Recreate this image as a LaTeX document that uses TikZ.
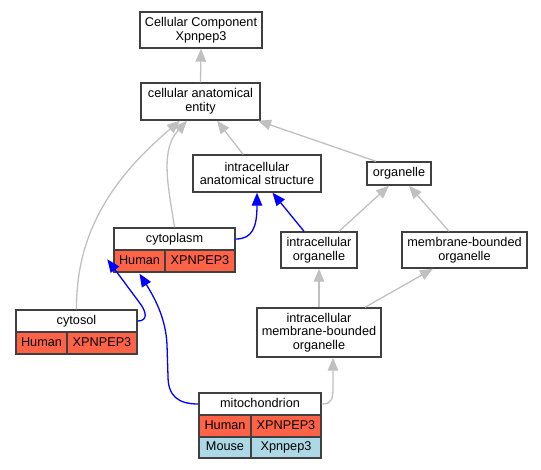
\documentclass[tikz,border=0pt]{standalone}
\usepackage{fontspec}
\setmainfont{Liberation Sans}
\usetikzlibrary{arrows.meta,calc}
\definecolor{edgegray}{HTML}{C0C0C0}
\definecolor{boxborder}{HTML}{404040}
\definecolor{humanfill}{HTML}{FF6347}
\definecolor{mousefill}{HTML}{ADD8E6}
\begin{document}
\begin{tikzpicture}[x=1pt,y=-1pt,
  every node/.style={font=\fontsize{12.7}{13.7}\selectfont},
  termbox/.style={draw=boxborder,line width=1.4pt,fill=white,align=center,inner sep=0pt},
  cell/.style={draw=boxborder,line width=1.4pt,inner sep=0pt,text height=9.1pt,text depth=2.6pt},
  titlecell/.style={cell,fill=white},
  human/.style={cell,fill=humanfill},
  mouse/.style={cell,fill=mousefill},
  isa/.style={draw=edgegray,line width=1.3pt,-{Triangle[length=13pt,width=10.5pt]}},
  orth/.style={draw=blue,line width=1.3pt,-{Triangle[length=13pt,width=10.5pt]}}]
\useasboundingbox (0,0) rectangle (541,469);

% term nodes
\node[termbox,minimum width=122pt,minimum height=36pt] (cc) at (201,30) {Cellular Component\\Xpnpep3};
\node[termbox,minimum width=119pt,minimum height=37pt] (cae) at (200.5,101.5) {cellular anatomical\\entity};
\node[termbox,minimum width=128pt,minimum height=37pt] (ias) at (257,173.5) {intracellular\\anatomical structure};
\node[termbox,minimum width=64pt,minimum height=23pt] (org) at (399,173.5) {organelle};
\node[termbox,minimum width=76pt,minimum height=36pt] (io) at (319,250) {intracellular\\organelle};
\node[termbox,minimum width=125pt,minimum height=36pt] (mbo) at (464.5,250) {membrane-bounded\\organelle};
\node[termbox,minimum width=124pt,minimum height=49pt] (imbo) at (319,332.5) {intracellular\\membrane-bounded\\organelle};

% cytoplasm record
\node[titlecell,minimum width=121pt,minimum height=22pt] (cyt) at (174.5,239) {cytoplasm};
\node[human,minimum width=51pt,minimum height=22pt] (cyh) at (139.5,261) {Human};
\node[human,minimum width=70pt,minimum height=22pt] (cyg) at (200,261) {XPNPEP3};

% cytosol record
\node[titlecell,minimum width=121pt,minimum height=22pt] (cso) at (76.5,321) {cytosol};
\node[human,minimum width=51pt,minimum height=22pt] (csh) at (41.5,343) {Human};
\node[human,minimum width=70pt,minimum height=22pt] (csg) at (102,343) {XPNPEP3};

% mitochondrion record
\node[titlecell,minimum width=122pt,minimum height=22pt] (mit) at (260,404) {mitochondrion};
\node[human,minimum width=52pt,minimum height=22pt] (mih) at (225,426) {Human};
\node[human,minimum width=70pt,minimum height=22pt] (mig) at (286,426) {XPNPEP3};
\node[mouse,minimum width=52pt,minimum height=21pt] (mim) at (225,447.5) {Mouse};
\node[mouse,minimum width=70pt,minimum height=21pt] (mimg) at (286,447.5) {Xpnpep3};

% is-a edges (gray)
\draw[isa] (cae.north) -- (cc.south);
\draw[isa] ([xshift=-14pt]ias.north) -- ([xshift=16.5pt]cae.south);
\draw[isa] ([xshift=-23pt]org.north) -- ([xshift=57.5pt]cae.south);
\draw[isa] (cyt.north) .. controls (168,185) and (160,150) .. ([xshift=-13.5pt]cae.south);
\draw[isa] (cso.north) .. controls (76,235) and (110,180) .. ([xshift=-20.5pt]cae.south);
\draw[isa] ([xshift=20pt]io.north) -- ([xshift=-10pt]org.south);
\draw[isa] ([xshift=-15.5pt]mbo.north) -- ([xshift=10pt]org.south);
\draw[isa] (imbo.north) -- (io.south);
\draw[isa] ([xshift=46pt]imbo.north) -- ([xshift=-31.5pt]mbo.south);
\draw[isa] (mit.east) .. controls (333,404) and (333,398) .. (333,385) -- ([xshift=14pt]imbo.south);

% orthology-supported edges (blue)
\draw[orth] (cyt.east) .. controls (252,239) and (257,228) .. (ias.south);
\draw[orth] ([xshift=-15pt]io.north) -- ([xshift=15.5pt]ias.south);
\draw[orth] (cso.east) .. controls (148,321) and (147,312) .. (139,302) -- ($(cyh.north west)+(-6,10)$);
\draw[orth] (mit.west) .. controls (178,404) and (168,396) .. (168,376) -- (167,345) .. controls (166,320) and (156,300) .. ($(cyh.south)+(0,1)$);
\end{tikzpicture}
\end{document}
